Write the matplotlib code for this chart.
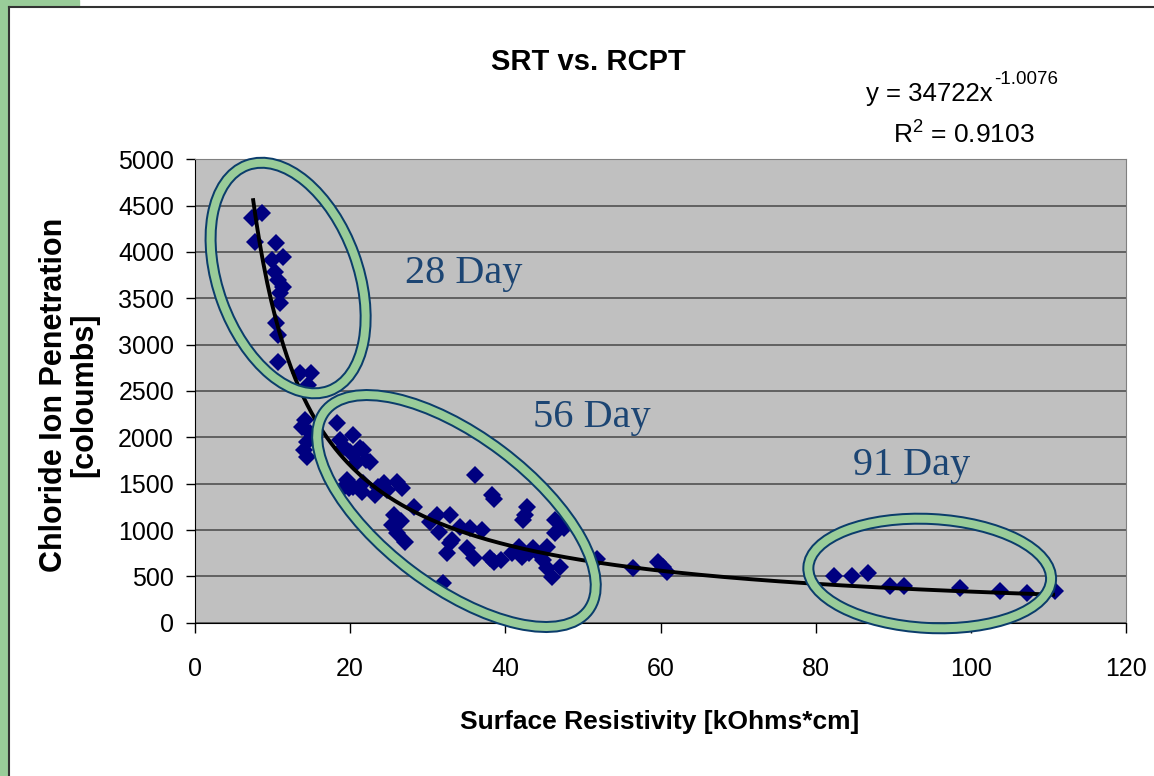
import matplotlib
matplotlib.use('Agg')
import numpy as np
import matplotlib.pyplot as plt
from matplotlib.patches import Ellipse, Rectangle
from matplotlib.lines import Line2D
from matplotlib.transforms import IdentityTransform

# surface resistivity [kOhm*cm] vs. RCPT charge [coulombs]
sr_28 = [7.3, 8.6, 7.7, 10.4, 9.9, 11.3, 10.3, 10.7, 11.4, 11.0, 10.9, 10.5,
         10.7, 10.7, 13.5, 15.0, 14.6, 14.2, 13.8, 14.4, 14.0, 14.4, 14.8]
rcpt_28 = [4363, 4417, 4111, 4093, 3913, 3949, 3787, 3698, 3625, 3554, 3446, 3230,
           3104, 2816, 2691, 2691, 2565, 2187, 2115, 1953, 1863, 1791, 2050]

sr_56 = [18.3, 20.4, 18.7, 21.7, 20.0, 22.6, 20.9, 19.2, 21.3, 22.1, 19.9, 19.2,
         19.6, 20.4, 21.5, 21.7, 23.6, 23.2, 24.3, 24.7, 26.0, 26.7, 28.2, 25.6,
         25.4, 26.0, 27.1, 26.5, 30.3, 31.2, 31.4, 32.9, 34.2, 32.9, 32.5, 35.0,
         35.9, 36.1, 32.0, 38.3, 38.5, 35.5, 37.0, 33.1, 38.0, 38.5, 39.5, 40.8,
         41.7, 42.1, 43.0, 43.6, 42.8, 42.3, 42.5, 46.4, 47.5, 46.4, 45.4, 44.9,
         45.4, 46.0, 47.1, 44.5, 51.8, 56.5, 59.7, 60.3, 60.8]
rcpt_56 = [2151, 2025, 1971, 1863, 1845, 1737, 1737, 1900, 1882, 1756, 1450, 1460,
           1540, 1468, 1414, 1504, 1468, 1378, 1504, 1432, 1521, 1450, 1252, 1162,
           1054, 964, 874, 1100, 1090, 1162, 982, 1162, 1036, 857, 749, 803,
           695, 1594, 425, 1380, 1330, 1018, 1000, 892, 695, 658, 676, 749,
           820, 712, 749, 803, 1252, 1108, 1162, 1108, 1018, 964, 820, 676,
           587, 496, 604, 730, 690, 587, 658, 600, 550]

sr_91 = [82.3, 84.7, 86.7, 89.6, 91.4, 98.6, 103.8, 107.2, 110.8]
rcpt_91 = [504, 504, 533, 396, 396, 371, 345, 317, 345]

# power trendline shown on the chart
FIT_A = 34722
FIT_B = -1.0076
FIT_R2 = 0.9103
FIT_XMIN, FIT_XMAX = 7.5, 110.6

X_TICKS = [0, 20, 40, 60, 80, 100, 120]
Y_TICKS = list(range(0, 5001, 500))

# ellipse groups: label, centre (data), label position (data),
# width/height in pixels, angle
GROUPS = [
    ('28 Day', (12.0, 3719), (34.6, 3773), 240, 140, -70),
    ('56 Day', (33.7, 1205), (51.1, 2209), 330, 150, -37),
    ('91 Day', (94.7, 531), (92.3, 1691), 243, 109, -3),
]

W, H = 1154, 776
GREEN = '#99CC99'
NAVY = '#000080'
RING = '#0B3D6B'
LABEL_BLUE = '#1C4573'

plt.rcParams['font.family'] = ['Liberation Sans', 'DejaVu Sans']
plt.rcParams['mathtext.fontset'] = 'custom'
plt.rcParams['mathtext.rm'] = 'Liberation Sans'
plt.rcParams['mathtext.it'] = 'Liberation Sans'

fig = plt.figure(figsize=(W / 100, H / 100), dpi=100)

# green page margin and chart border
fig.patches.append(Rectangle((0, 0), 8 / W, 1, transform=fig.transFigure,
                             color=GREEN, zorder=0))
fig.patches.append(Rectangle((0, 1 - 6 / H), 79 / W, 6 / H,
                             transform=fig.transFigure, color=GREEN, zorder=0))
fig.lines.append(Line2D([8.5 / W, 8.5 / W], [0, 1 - 6.5 / H],
                        transform=fig.transFigure, color='#333333', lw=1.5))
fig.lines.append(Line2D([8.5 / W, 1], [1 - 6.5 / H, 1 - 6.5 / H],
                        transform=fig.transFigure, color='#333333', lw=1.5))

ax = fig.add_axes([195 / W, 1 - 622.7 / H, (1126 - 195) / W, (622.7 - 159.3) / H])
ax.set_facecolor('#C0C0C0')
ax.set_xlim(0, 120)
ax.set_ylim(0, 5000)
ax.set_xticks(X_TICKS)
ax.set_yticks(Y_TICKS)
ax.yaxis.grid(True, color='#5a5a5a', lw=1.3)
ax.set_axisbelow(True)
for side in ['left', 'bottom']:
    ax.spines[side].set_color('black')
for side in ['top', 'right']:
    ax.spines[side].set_color('#808080')
ax.tick_params(axis='y', direction='out', length=6.5, width=1, pad=8.6, labelsize=18)
ax.tick_params(axis='x', direction='out', length=7.5, width=1, pad=17, labelsize=18)

sr = sr_28 + sr_56 + sr_91
rcpt = rcpt_28 + rcpt_56 + rcpt_91
ax.plot(sr, rcpt, 'D', color=NAVY, ms=9, mew=0, zorder=3)

xs = np.linspace(FIT_XMIN, FIT_XMAX, 400)
ax.plot(xs, FIT_A * xs ** FIT_B, color='black', lw=2.8, zorder=4)

for label, centre, lab_pos, ew, eh, ang in GROUPS:
    cx, cy = ax.transData.transform(centre)
    for col, lw in [(RING, 12 * 0.72), (GREEN, 8 * 0.72)]:
        ax.add_patch(Ellipse((cx, cy), ew, eh, angle=ang, fill=False,
                             ec=col, lw=lw, transform=IdentityTransform(),
                             clip_on=False, zorder=5))
    ax.text(lab_pos[0], lab_pos[1], label, ha='center', va='center',
            fontsize=29, family=['Liberation Serif', 'DejaVu Serif'],
            color=LABEL_BLUE, zorder=6)

fig.text(588 / W, 1 - 70 / H, 'SRT vs. RCPT', ha='center', va='baseline',
         fontsize=21, fontweight='bold')
fig.text(993 / W, 1 - 100.5 / H, 'y = 34722x', ha='right', va='baseline',
         fontsize=18.5)
fig.text(994 / W, 1 - 84 / H, '%g' % FIT_B, ha='left', va='baseline',
         fontsize=13.5)
fig.text(964 / W, 1 - 143.5 / H, r'R$^2$ = %s' % FIT_R2,
         ha='center', va='baseline', fontsize=19)

fig.text(69 / W, 1 - 395 / H, 'Chloride Ion Penetration\n[coloumbs]',
         rotation=90, ha='center', va='center', fontsize=22,
         fontweight='bold', linespacing=1.0)
fig.text(660 / W, 1 - 722 / H, 'Surface Resistivity [kOhms*cm]',
         ha='center', va='center', fontsize=19, fontweight='bold')

fig.savefig('out.png', dpi=100)
